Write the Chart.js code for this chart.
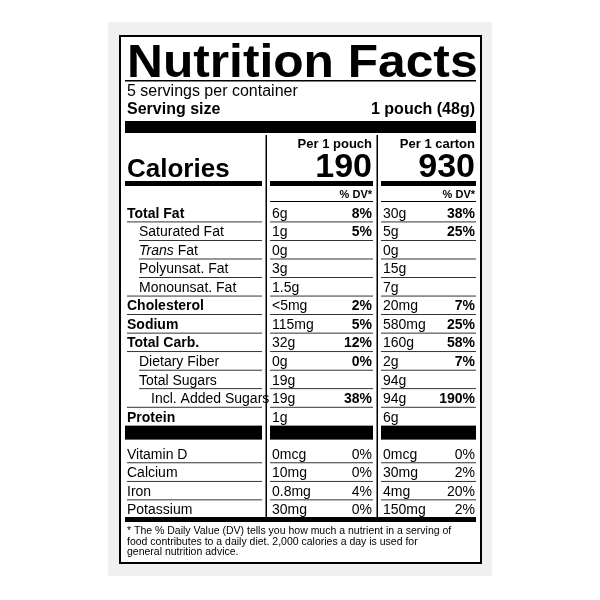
<!DOCTYPE html>
<html><head><meta charset="utf-8">
<script src="https://cdn.jsdelivr.net/npm/chart.js"></script>
<style>html,body{margin:0;padding:0;background:#fff}#w{width:600px;height:600px}</style>
</head><body><div id="w"><canvas id="c" width="600" height="600"></canvas></div>
<script>
const rowNames=["Total Fat","Saturated Fat","Trans Fat","Polyunsat. Fat","Monounsat. Fat","Cholesterol","Sodium","Total Carb.","Dietary Fiber","Total Sugars","Incl. Added Sugars","Protein","","Vitamin D","Calcium","Iron","Potassium"];
const rowIndent=[0,1,1,1,1,0,0,0,1,1,2,0,0,0,0,0,0];
const rowBold=[1,0,0,0,0,1,1,1,0,0,0,1,0,0,0,0,0];
const pouchAmt=["6g","1g","0g","3g","1.5g","<5mg","115mg","32g","0g","19g","19g","1g","","0mcg","10mg","0.8mg","30mg"];
const pouchDV=["8%","5%","","","","2%","5%","12%","0%","","38%","","","0%","0%","4%","0%"];
const cartonAmt=["30g","5g","0g","15g","7g","20mg","580mg","160g","2g","94g","94g","6g","","0mcg","30mg","4mg","150mg"];
const cartonDV=["38%","25%","","","","7%","25%","58%","7%","","190%","","","0%","2%","20%","2%"];
const calories=["190","930"];
const F='"Liberation Sans", Arial, sans-serif';
const label={id:'label',afterDraw(ch){
 const c=ch.ctx, y=ch.scales.y;
 c.save();
 c.fillStyle='#f0f0f0';c.fillRect(108,22,384,554);
 c.fillStyle='#fff';c.fillRect(120,36,361,527);
 c.strokeStyle='#000';c.lineWidth=2;c.strokeRect(120,36,361,527);
 c.fillStyle='#000';
 const t=(s,x,yy,f,al)=>{c.font=f;c.textAlign=al||'left';c.textBaseline='alphabetic';c.fillText(s,x,yy);};
 c.save();c.translate(127,77);c.scale(1.08,1);t("Nutrition Facts",0,0,"900 46px "+F);c.restore();
 c.fillRect(125,80,351,1.5);
 t("5 servings per container",127,96,"16px "+F);
 t("Serving size",127,114,"bold 16px "+F);
 t("1 pouch (48g)",475,114,"bold 16px "+F,'right');
 c.fillRect(125,121,351,12);
 // verticals
 c.fillRect(265.5,135,1.5,383);c.fillRect(376.5,135,1.5,383);
 t("Per 1 pouch",372,148,"bold 13px "+F,'right');
 t("Per 1 carton",475,148,"bold 13px "+F,'right');
 t(calories[0],372,177,"bold 34px "+F,'right');
 t(calories[1],475,177,"bold 34px "+F,'right');
 t("Calories",127,177,"bold 26px "+F);
 c.fillRect(125,181,137,5);c.fillRect(270,181,103,5);c.fillRect(381,181,95,5);
 t("% DV*",372,198,"bold 11px "+F,'right');t("% DV*",475,198,"bold 11px "+F,'right');
 c.fillRect(270,201,103,1);c.fillRect(381,201,95,1);
 const h=y.getPixelForValue(1)-y.getPixelForValue(0);
 rowNames.forEach((n,i)=>{
  const cy=y.getPixelForValue(i), bl=cy+5.5;
  if(i===12){c.fillRect(125,cy-9,137,14);c.fillRect(270,cy-9,103,14);c.fillRect(381,cy-9,95,14);return;}
  const x0=127+rowIndent[i]*12;
  if(i===2){t("Trans",x0,bl,"italic 14px "+F);const w=c.measureText("Trans ").width;t("Fat",x0+w,bl,"14px "+F);}
  else t(n,x0,bl,(rowBold[i]?"bold ":"")+"14px "+F);
  t(pouchAmt[i],272,bl,"14px "+F);
  const dvF=(i<12?"bold ":"")+"14px "+F;
  t(pouchDV[i],372,bl,dvF,'right');
  t(cartonAmt[i],383,bl,"14px "+F);
  t(cartonDV[i],475,bl,dvF,'right');
  if(i!==11&&i!==16&&i!==12){
   const ly=cy+h/2;const nx=(i+1<rowNames.length)?127+rowIndent[i+1]*12:127;
   c.fillRect(Math.min(x0,nx),ly,262-Math.min(x0,nx),0.8);c.fillRect(270,ly,103,0.8);c.fillRect(381,ly,95,0.8);
  }
 });
 c.fillRect(125,517,351,5);
 const fn=["* The % Daily Value (DV) tells you how much a nutrient in a serving of","food contributes to a daily diet. 2,000 calories a day is used for","general nutrition advice."];
 fn.forEach((s,i)=>t(s,127,534+i*10.5,"10.5px "+F));
 c.restore();
}};
new Chart(document.getElementById('c'),{type:'bar',
 data:{labels:rowNames.map((n,i)=>n||('gap'+i)),datasets:[{data:rowNames.map(()=>0),backgroundColor:'rgba(0,0,0,0)'}]},
 options:{indexAxis:'y',responsive:false,animation:false,devicePixelRatio:1,
  layout:{padding:{top:203,bottom:82,left:0,right:0}},
  plugins:{legend:{display:false},tooltip:{enabled:false}},
  scales:{y:{display:false,offset:true},x:{display:false}}},
 plugins:[label]});
</script></body></html>
